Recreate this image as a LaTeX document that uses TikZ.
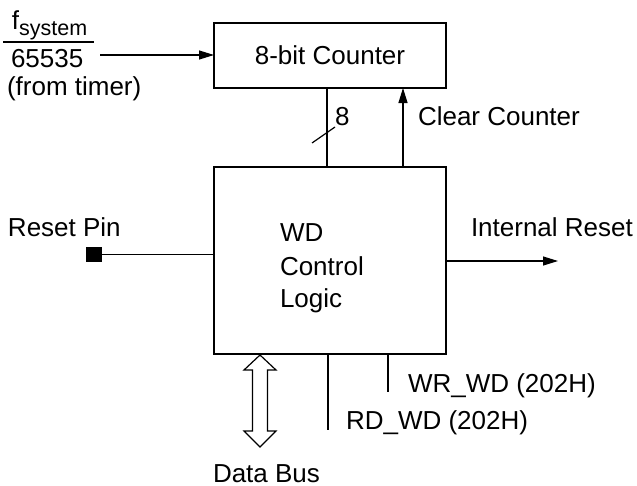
\documentclass[tikz,border=0pt]{standalone}
\usepackage{fontspec}
\setmainfont{Liberation Sans}
\usetikzlibrary{arrows.meta,calc}
\begin{document}
\begin{tikzpicture}[x=1pt,y=-1pt,
  every node/.style={font=\fontsize{26}{33}\selectfont, inner sep=0pt, outer sep=0pt},
  blockbox/.style={draw, line width=2.2pt, minimum width=232pt, align=center},
  wire/.style={line width=1.2pt},
  arrowwire/.style={wire, -{Triangle[length=15pt,width=9pt]}},
  lbl/.style={anchor=base west}]
\useasboundingbox (0,0) rectangle (637,485);

% blocks
\node[blockbox, minimum height=65pt] (counter) at (330,55.5) {};
\node[anchor=base] (countertxt) at (330,64) {8-bit Counter};
\node[blockbox, minimum height=187pt] (main) at (330,260.5) {};
\node[lbl] (wd) at (280,241.5) {WD};
\node[lbl] (ctrl) at (280,275) {Control};
\node[lbl] (logic) at (280,307) {Logic};

% clock input from timer
\node[lbl] (fsys) at (12,29) {f\raisebox{-6pt}{\fontsize{21.5}{22}\selectfont system}};
\draw[line width=1.2pt] (3,42) -- (94,42);
\node[lbl] (den) at (11,67) {65535};
\node[lbl] (timer) at (7,95) {(from timer)};
\coordinate (clkin) at (100,55);
\draw[arrowwire] (clkin) -- (clkin -| counter.west);

% counter value bus and clear line
\coordinate (bus8) at (327,120);
\coordinate (clr) at (403,120);
\draw[wire] (main.north -| bus8) -- (counter.south -| bus8);
\draw[wire] (312,143) -- (335,127);
\node[lbl] (eight) at (335,125) {8};
\draw[arrowwire] (main.north -| clr) -- (counter.south -| clr);
\node[lbl] (clrtxt) at (418,125) {Clear Counter};

% reset pin
\node[fill, minimum width=16pt, minimum height=15pt] (pin) at (94,254.5) {};
\node[lbl] (pintxt) at (8,236) {Reset Pin};
\draw[wire] (pin.east) -- (pin.east -| main.west);

% internal reset output
\coordinate (rstout) at (558,261);
\draw[arrowwire] (main.east |- rstout) -- (rstout);
\node[lbl] (rsttxt) at (471,236) {Internal Reset};

% data bus (hollow double arrow)
\coordinate (dbtop) at (260,355);
\draw[line width=1.2pt, line join=miter]
  (dbtop) -- ++(16,15) -- ++(-8.5,0) -- (267.5,431) -- ++(8.5,0)
  -- (260,447) -- ++(-16,-16) -- ++(8.5,0) -- (252.5,370) -- ++(-8.5,0) -- cycle;
\node[lbl] (dbtxt) at (213,482) {Data Bus};

% read / write strobes
\coordinate (rdend) at (328,430);
\coordinate (wrend) at (388,392);
\draw[wire] (main.south -| rdend) -- (rdend);
\draw[wire] (main.south -| wrend) -- (wrend);
\node[lbl] (rdtxt) at (346,429) {RD\_WD (202H)};
\node[lbl] (wrtxt) at (408,392) {WR\_WD (202H)};
\end{tikzpicture}
\end{document}
